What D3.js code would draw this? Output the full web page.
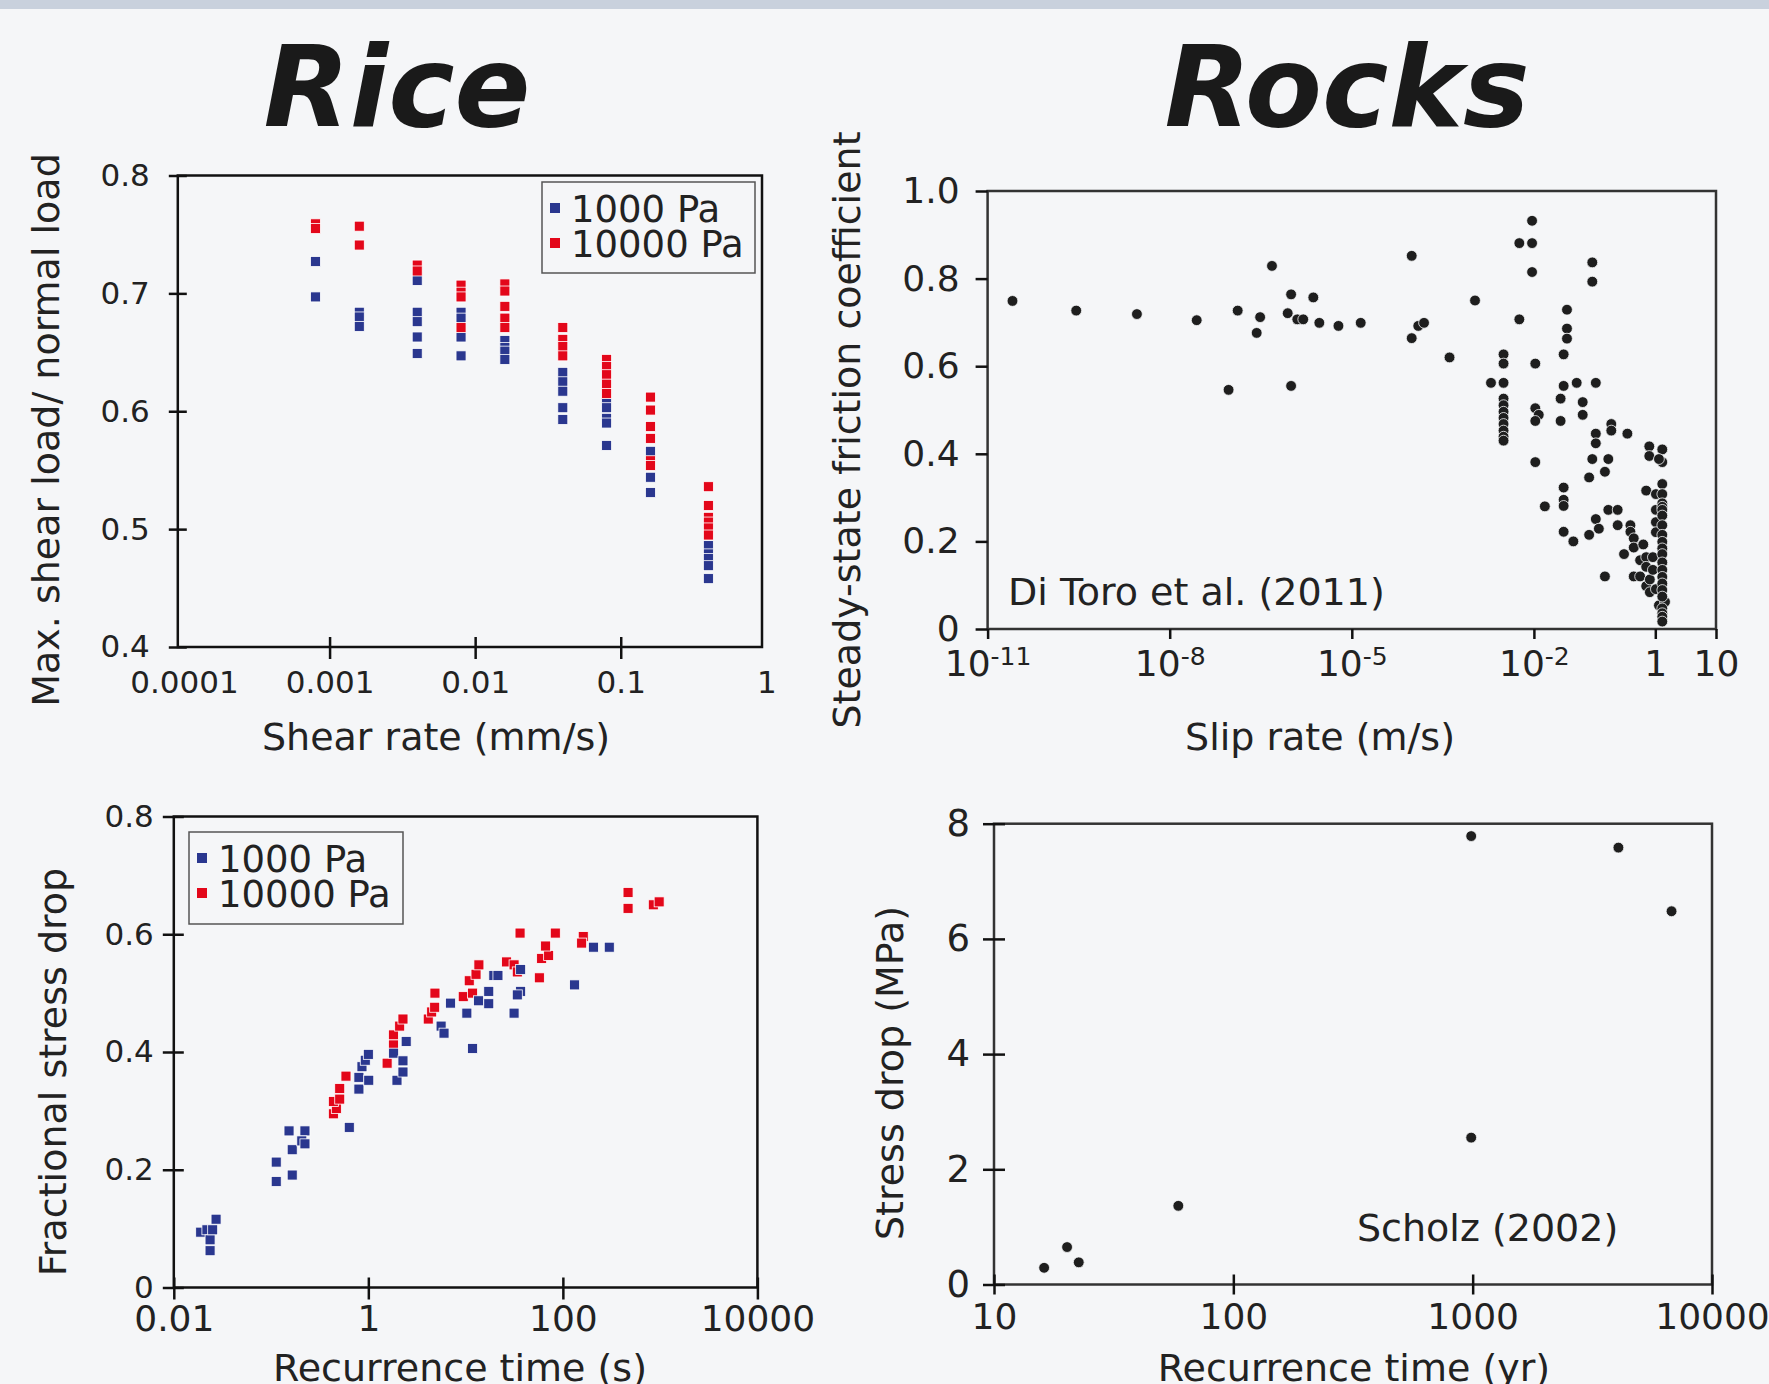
<!DOCTYPE html>
<html>
<head>
<meta charset="utf-8">
<script src="https://cdn.jsdelivr.net/npm/d3@7"></script>
<style>
  body { margin: 0; background: #f5f6f8; }
</style>
</head>
<body>
<script>
// ---------- data ----------

// Rice: max shear load / normal load vs shear rate (mm/s)
var shearRate = [0.0008, 0.0016, 0.004, 0.008, 0.016, 0.04, 0.08, 0.16, 0.4];
var friction1000 = [
  [0.727, 0.697],
  [0.684, 0.680, 0.672],
  [0.714, 0.711, 0.684, 0.676, 0.663, 0.649],
  [0.684, 0.679, 0.663, 0.647],
  [0.660, 0.654, 0.651, 0.644],
  [0.633, 0.625, 0.617, 0.603, 0.593],
  [0.607, 0.603, 0.594, 0.590, 0.571],
  [0.566, 0.544, 0.531],
  [0.486, 0.479, 0.475, 0.469, 0.458]
];
var friction10000 = [
  [0.759, 0.755],
  [0.757, 0.741],
  [0.724, 0.719],
  [0.707, 0.701, 0.697, 0.671],
  [0.708, 0.702, 0.689, 0.679, 0.671],
  [0.671, 0.661, 0.655, 0.647],
  [0.644, 0.638, 0.631, 0.623, 0.615],
  [0.612, 0.601, 0.587, 0.577, 0.558, 0.554],
  [0.536, 0.520, 0.510, 0.506, 0.501, 0.495]
];
var shearTicks = [0.0001, 0.001, 0.01, 0.1, 1];
var shearTickLabels = ["0.0001", "0.001", "0.01", "0.1", "1"];
var frictionTicks = [0.4, 0.5, 0.6, 0.7, 0.8];

// Rocks: steady-state friction vs slip rate (log10 m/s), Di Toro et al. (2011)
var slipExp = [
  -10.59, -9.54, -8.54, -7.555, -6.88, -6.51, -6.567, -7.03, -6.315, -6.0, -6.056,
  -5.898, -5.80, -5.634, -5.535, -5.22, -4.853, -6.0, -4.013, -4.013, -3.905, -3.81,
  -2.03, -2.24, -2.03, -2.03, -1.038, -1.038, -2.97, -2.24, -1.455, -1.455, -1.455,
  -1.51, -3.39, -2.50, -2.50, -1.977, -2.707, -2.50, -1.51, -1.295, -0.98,
  -2.50, -2.50, -2.50, -2.50, -2.50, -2.50, -2.50, -2.50,
  -1.977, -1.92, -1.977, -1.56, -1.196, -1.196, -1.56, -0.725, -0.725, -0.98, -0.98,
  -0.46, -1.977, -1.038, -0.774, -0.099, -0.099, 0.115, 0.115, 0.06, -0.83, -1.09,
  -1.51, -1.51, -1.51, -1.82, -1.51, -1.35, -1.09, -0.98, -0.93, -0.774, -0.62, -0.62,
  -0.83, -0.515, -0.41, -0.41, -0.355, -0.355, -0.198, -0.25, -0.15, -0.15, -0.355,
  -0.25, -0.15, -0.09, -0.04, -0.04, -0.15, 0.01, 0.01, 0.01, 0.01, -0.09, 0.01, 0.06, 0.16,
  0.115, 0.115, 0.115, 0.115, 0.115, 0.115, 0.115, 0.115, 0.115, 0.115, 0.115,
  0.115, 0.115, 0.115, 0.115, 0.115, 0.115, 0.115, 0.115, 0.115, 0.115
];
var slipMu = [
  0.749, 0.727, 0.719, 0.705, 0.727, 0.712, 0.676, 0.546, 0.829, 0.764, 0.721,
  0.707, 0.707, 0.757, 0.699, 0.692, 0.699, 0.555, 0.852, 0.664, 0.692, 0.699,
  0.932, 0.881, 0.881, 0.815, 0.837, 0.793, 0.750, 0.707, 0.729, 0.686, 0.663,
  0.627, 0.620, 0.627, 0.606, 0.606, 0.562, 0.562, 0.555, 0.562, 0.562,
  0.526, 0.511, 0.496, 0.482, 0.468, 0.453, 0.439, 0.430,
  0.504, 0.489, 0.475, 0.526, 0.518, 0.489, 0.475, 0.468, 0.453, 0.446, 0.424,
  0.446, 0.381, 0.388, 0.388, 0.417, 0.395, 0.410, 0.381, 0.388, 0.359, 0.346,
  0.323, 0.295, 0.281, 0.280, 0.222, 0.200, 0.215, 0.251, 0.229, 0.272, 0.272, 0.237,
  0.120, 0.171, 0.237, 0.222, 0.207, 0.186, 0.193, 0.157, 0.164, 0.142, 0.120,
  0.120, 0.098, 0.113, 0.164, 0.135, 0.316, 0.308, 0.272, 0.244, 0.221, 0.084, 0.091, 0.054, 0.062,
  0.331, 0.308, 0.287, 0.279, 0.272, 0.259, 0.237, 0.215, 0.199, 0.184, 0.171,
  0.152, 0.135, 0.119, 0.104, 0.089, 0.074, 0.047, 0.036, 0.028, 0.017
];
var slipTicks = [1e-11, 1e-8, 1e-5, 1e-2, 1, 10];
var slipTickBase = ["10", "10", "10", "10", "1", "10"];
var slipTickSup = ["-11", "-8", "-5", "-2", "", ""];
var muTicks = [0, 0.2, 0.4, 0.6, 0.8, 1.0];
var muTickLabels = ["0", "0.2", "0.4", "0.6", "0.8", "1.0"];

// Rice: fractional stress drop vs recurrence time (s)
var recur1000 = [0.0189, 0.0219, 0.0236, 0.0236, 0.0251, 0.0272, 0.113, 0.113, 0.165, 0.165,
  0.153, 0.223, 0.207, 0.223, 0.637, 0.80, 0.80, 0.86, 0.93, 1.0, 1.01, 1.97, 1.82, 2.27,
  2.27, 2.45, 5.6, 6.0, 11.8, 7.0, 10.3, 13.6, 17.3, 17.3, 19.5, 21.5, 31.5, 36.8, 34.0,
  36.8, 132, 206, 300];
var drop1000 = [0.094, 0.098, 0.081, 0.0625, 0.098, 0.116, 0.213, 0.180, 0.191, 0.234,
  0.266, 0.266, 0.249, 0.244, 0.272, 0.337, 0.357, 0.375, 0.386, 0.396, 0.352, 0.352, 0.398, 0.385,
  0.366, 0.418, 0.444, 0.432, 0.406, 0.483, 0.466, 0.487, 0.503, 0.482, 0.530, 0.530, 0.466, 0.503, 0.497,
  0.540, 0.514, 0.578, 0.578];
var recur10000 = [0.437, 0.469, 0.437, 0.508, 0.508, 0.589, 1.56, 1.81, 1.81, 2.10, 2.27,
  4.13, 4.48, 4.81, 4.84, 9.46, 11.8, 10.9, 12.8, 13.7, 26.4, 31.5, 34.0, 36.3, 57.3, 60.5,
  71.4, 66.5, 83.6, 162, 156, 468, 468, 851, 977];
var drop10000 = [0.295, 0.304, 0.316, 0.320, 0.338, 0.359, 0.381, 0.429, 0.412, 0.444, 0.456,
  0.456, 0.468, 0.476, 0.500, 0.494, 0.500, 0.521, 0.532, 0.548, 0.553, 0.548, 0.536, 0.602, 0.526, 0.559,
  0.564, 0.580, 0.602, 0.596, 0.585, 0.671, 0.644, 0.650, 0.655];
var recurTicks = [0.01, 1, 100, 10000];
var recurTickLabels = ["0.01", "1", "100", "10000"];
var dropTicks = [0, 0.2, 0.4, 0.6, 0.8];
var dropTickLabels = ["0", "0.2", "0.4", "0.6", "0.8"];

// Rocks: stress drop (MPa) vs recurrence time (yr), Scholz (2002)
var scholzTime = [16.2, 20.2, 22.6, 58.9, 986, 986, 4064, 6776];
var scholzDrop = [0.29, 0.65, 0.385, 1.366, 2.55, 7.785, 7.585, 6.48];
var yearTicks = [10, 100, 1000, 10000];
var yearTickLabels = ["10", "100", "1000", "10000"];
var mpaTicks = [0, 2, 4, 6, 8];

// ---------- page ----------
var svgWidth = 1769;
var svgHeight = 1384;
var font = '"DejaVu Sans", Verdana, sans-serif';
var ink = "#1e1e1e";
var blue = "#2a378f";
var red = "#e3071a";

var svg = d3.select("body")
  .append("svg")
  .attr("width", svgWidth)
  .attr("height", svgHeight)
  .attr("font-family", font);

svg.append("rect").attr("width", svgWidth).attr("height", svgHeight).attr("fill", "#f5f6f8");
svg.append("rect").attr("width", svgWidth).attr("height", 9).attr("fill", "#c9d1dd");

// axis with ticks that can cross the frame line
function addAxis(orient, scale, pos, values, labels, inner, outer, pad, size) {
  var axis = (orient == "bottom" ? d3.axisBottom(scale) : d3.axisLeft(scale))
    .tickValues(values)
    .tickFormat((d, i) => labels[i])
    .tickSizeInner(outer)
    .tickSizeOuter(0)
    .tickPadding(pad);
  var g = svg.append("g")
    .attr("transform", orient == "bottom" ? `translate(0,${pos})` : `translate(${pos},0)`)
    .call(axis);
  g.select(".domain").remove();
  g.attr("font-family", font).attr("font-size", size).attr("color", "#111");
  g.selectAll(".tick line").attr("stroke-width", 2.5);
  if (orient == "bottom") g.selectAll(".tick line").attr("y1", -inner);
  else g.selectAll(".tick line").attr("x1", inner);
  g.selectAll(".tick text").attr("fill", "#222");
  return g;
}

function frame(x0, x1, y0, y1, color) {
  svg.append("rect")
    .attr("x", x0).attr("y", y0)
    .attr("width", x1 - x0).attr("height", y1 - y0)
    .attr("fill", "none")
    .attr("stroke", color)
    .attr("stroke-width", 2.5);
}

function label(txt, x, y, size, anchor, rotate) {
  svg.append("text")
    .attr("transform", `translate(${x},${y})` + (rotate ? " rotate(-90)" : ""))
    .attr("text-anchor", anchor)
    .attr("font-size", size)
    .attr("fill", "#222")
    .text(txt);
}

function squares(xs, ys, xScale, yScale, color, size) {
  svg.append("g").selectAll("rect")
    .data(xs.map((x, i) => [x, ys[i]]))
    .join("rect")
    .attr("x", d => xScale(d[0]) - size / 2)
    .attr("y", d => yScale(d[1]) - size / 2)
    .attr("width", size)
    .attr("height", size)
    .attr("fill", color)
    .attr("stroke", "#ffffff")
    .attr("stroke-width", 0.8);
}

function dots(xs, ys, xScale, yScale, r) {
  svg.append("g").selectAll("circle")
    .data(xs.map((x, i) => [x, ys[i]]))
    .join("circle")
    .attr("cx", d => xScale(d[0]))
    .attr("cy", d => yScale(d[1]))
    .attr("r", r)
    .attr("fill", ink)
    .attr("stroke", "#f5f6f8")
    .attr("stroke-width", 0.8);
}

function legend(x, y, w, h, textSize) {
  svg.append("rect")
    .attr("x", x).attr("y", y).attr("width", w).attr("height", h)
    .attr("fill", "#f5f6f8").attr("stroke", "#555").attr("stroke-width", 1.5);
  [["1000 Pa", blue], ["10000 Pa", red]].forEach(function(item, i) {
    var cy = y + 26 + i * 35;
    svg.append("rect")
      .attr("x", x + 8).attr("y", cy - 5)
      .attr("width", 10).attr("height", 10)
      .attr("fill", item[1]);
    svg.append("text")
      .attr("x", x + 29).attr("y", cy + 13.5)
      .attr("font-size", textSize).attr("fill", "#222")
      .text(item[0]);
  });
}

// titles
svg.append("text").attr("x", 397).attr("y", 126).attr("text-anchor", "middle")
  .attr("font-size", 112).attr("font-weight", "bold").attr("font-style", "italic")
  .attr("fill", "#1a1a1a").text("Rice");
svg.append("text").attr("x", 1347).attr("y", 126).attr("text-anchor", "middle")
  .attr("font-size", 112).attr("font-weight", "bold").attr("font-style", "italic")
  .attr("fill", "#1a1a1a").text("Rocks");

// ---------- panel 1: shear rate ----------
var x1 = d3.scaleLog().domain([1e-4, 1]).range([184, 766.3]);
var y1 = d3.scaleLinear().domain([0.4, 0.8]).range([647, 175.5]);

frame(177.8, 762, 175.5, 647, "#111");
var ax1 = addAxis("bottom", x1, 647, shearTicks, shearTickLabels, 10, 12, 12, 31);
ax1.selectAll(".tick line").filter((d, i) => i == 0 || i == 4).remove();
addAxis("left", y1, 177.8, frictionTicks, frictionTicks.map(d => d.toFixed(1)), 9, 9, 19, 31);

shearRate.forEach(function(rate, i) {
  squares(friction1000[i].map(() => rate), friction1000[i], x1, y1, blue, 10);
});
shearRate.forEach(function(rate, i) {
  squares(friction10000[i].map(() => rate), friction10000[i], x1, y1, red, 10);
});
legend(542, 182, 213, 91, 37);

label("Shear rate (mm/s)", 436, 750, 38, "middle", false);
label("Max. shear load/ normal load", 59, 430, 38, "middle", true);

// ---------- panel 2: slip rate ----------
var x2 = d3.scaleLog().domain([1e-11, 10]).range([987.6, 1716]);
var y2 = d3.scaleLinear().domain([0, 1]).range([629, 191]);

frame(987.6, 1716, 191, 629, "#333");
var ax2 = addAxis("bottom", x2, 629, slipTicks, slipTicks.map(() => ""), 0, 10, 11, 36);
ax2.selectAll(".tick text").each(function(d, i) {
  var t = d3.select(this);
  t.append("tspan").text(slipTickBase[i]);
  if (slipTickSup[i]) t.append("tspan").attr("dy", -11).attr("font-size", 25).text(slipTickSup[i]);
});
addAxis("left", y2, 987.6, muTicks, muTickLabels, 0, 12, 16, 36);

dots(slipExp.map(e => Math.pow(10, e)), slipMu, x2, y2, 5.4);

svg.append("text").attr("x", 1008).attr("y", 605).attr("font-size", 38)
  .attr("fill", "#222").text("Di Toro et al. (2011)");

label("Slip rate (m/s)", 1320, 750, 38, "middle", false);
label("Steady-state friction coefficient", 860, 430, 38, "middle", true);

// ---------- panel 3: recurrence time (s) ----------
var x3 = d3.scaleLog().domain([0.01, 10000]).range([173.8, 757.4]);
var y3 = d3.scaleLinear().domain([0, 0.8]).range([1287.5, 816.5]);

frame(173.8, 757.4, 816.5, 1287.5, "#111");
addAxis("bottom", x3, 1287.5, recurTicks, recurTickLabels, 10, 12, 6, 36);
addAxis("left", y3, 173.8, dropTicks, dropTickLabels, 10, 11, 9, 31);

squares(recur10000, drop10000, x3, y3, red, 10);
squares(recur1000, drop1000, x3, y3, blue, 10);
legend(189, 832, 214, 92, 37);

label("Recurrence time (s)", 460, 1381, 38, "middle", false);
label("Fractional stress drop", 66, 1072, 38, "middle", true);

// ---------- panel 4: recurrence time (yr) ----------
var x4 = d3.scaleLog().domain([10, 10000]).range([994, 1712]);
var y4 = d3.scaleLinear().domain([0, 8]).range([1284.5, 823.7]);

frame(994, 1712, 823.7, 1284.5, "#333");
addAxis("bottom", x4, 1284.5, yearTicks, yearTickLabels, 10, 10, 9, 36);
addAxis("left", y4, 994, mpaTicks, mpaTicks.map(String), 11, 11, 13, 37);

dots(scholzTime, scholzDrop, x4, y4, 5.4);

svg.append("text").attr("x", 1357).attr("y", 1241).attr("font-size", 38)
  .attr("fill", "#222").text("Scholz (2002)");

label("Recurrence time (yr)", 1354, 1381, 38, "middle", false);
label("Stress drop (MPa)", 903, 1073, 38, "middle", true);
</script>
</body>
</html>
